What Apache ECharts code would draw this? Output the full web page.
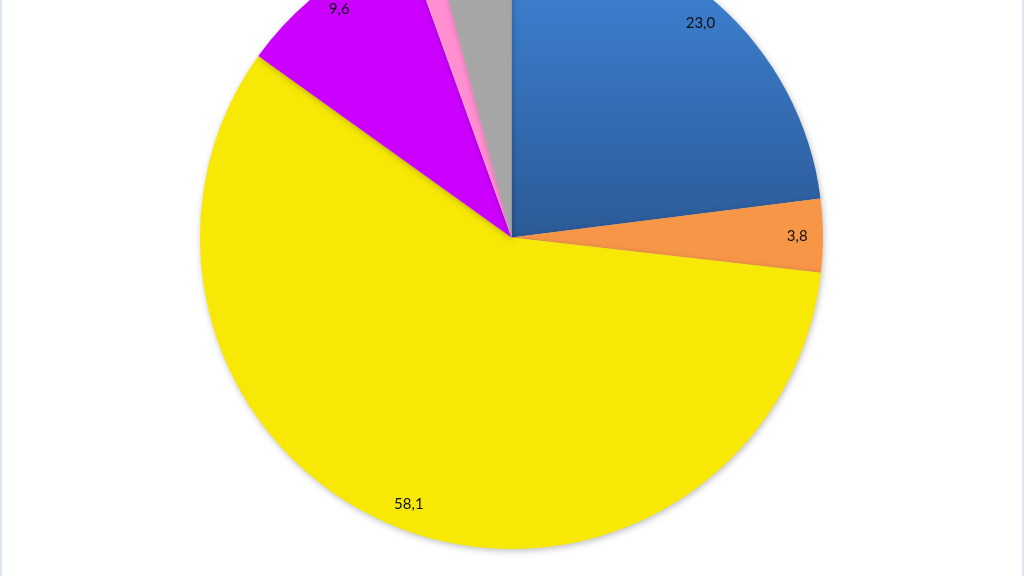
<!DOCTYPE html>
<html>
<head>
<meta charset="utf-8">
<script src="https://cdn.jsdelivr.net/npm/echarts@6/dist/echarts.min.js"></script>
<style>
html,body{margin:0;padding:0;background:#fff;}
#wrap{position:relative;width:1024px;height:576px;overflow:hidden;}
#chart{position:absolute;left:0;top:0;width:1024px;height:576px;}
.edge{position:absolute;top:0;width:2px;height:576px;background:#dce6f2;}
</style>
</head>
<body>
<div id="wrap">
<div id="chart"></div>
<div class="edge" style="left:0"></div>
<div class="edge" style="right:0"></div>
</div>
<script>
const categories = ['A', 'B', 'C', 'D', 'E', 'F'];
const values = [23.0, 3.8, 58.1, 9.6, 1.4, 4.1];
const colors = [
  null,
  '#f79646',
  '#f8e805',
  '#cc00ff',
  '#ff8fd0',
  '#a6a6a6'
];

const chart = echarts.init(document.getElementById('chart'), null, {renderer: 'canvas'});
const blueGrad = new echarts.graphic.LinearGradient(0, 0, 0, 237, [
  {offset: 0, color: '#3b7dcc'},
  {offset: 1, color: '#2c5a97'}
], true);

const pieData = categories.map((c, i) => ({
  name: c,
  value: values[i],
  itemStyle: {color: i === 0 ? blueGrad : colors[i]}
}));
const labelData = categories.map((c, i) => ({name: c, value: values[i]}));

const center = [511.5, 237.5];
const R = 311.5;

chart.setOption({
  animation: false,
  series: [
    {
      type: 'pie',
      center: center,
      radius: [0, R],
      startAngle: 90,
      clockwise: true,
      silent: true,
      label: {show: false},
      labelLine: {show: false},
      itemStyle: {
        borderWidth: 0,
        shadowBlur: 6,
        shadowColor: 'rgba(0,0,0,0.25)',
        shadowOffsetX: 1,
        shadowOffsetY: 2
      },
      data: pieData
    },
    {
      type: 'pie',
      center: center,
      radius: [R * 0.815, R],
      startAngle: 90,
      clockwise: true,
      silent: true,
      itemStyle: {color: 'rgba(0,0,0,0)', borderWidth: 0},
      label: {
        show: true,
        position: 'inside',
        formatter: p => p.value.toFixed(1).replace('.', ','),
        fontFamily: 'Lato',
        fontSize: 15,
        color: '#111'
      },
      labelLine: {show: false},
      data: labelData
    }
  ]
});
</script>
</body>
</html>
